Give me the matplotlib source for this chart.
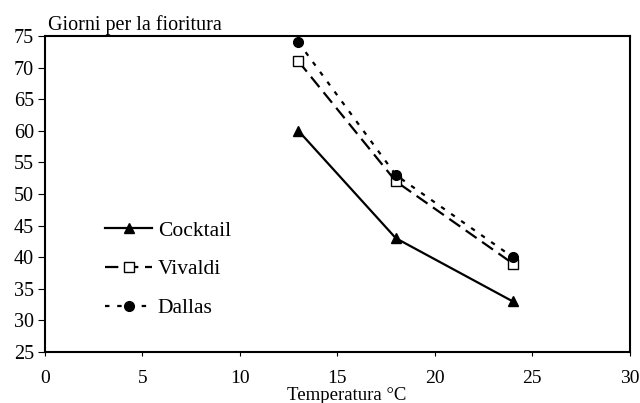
import matplotlib
matplotlib.use("Agg")
import matplotlib.pyplot as plt

temperature = [13, 18, 24]
cocktail = [60, 43, 33]
vivaldi = [71, 52, 39]
dallas = [74, 53, 40]
xticks = [0, 5, 10, 15, 20, 25, 30]
yticks = [25, 30, 35, 40, 45, 50, 55, 60, 65, 70, 75]

plt.rcParams['font.family'] = ['Liberation Serif', 'DejaVu Serif']

fig = plt.figure(figsize=(6.4, 4.03), dpi=100)
ax = fig.add_axes([0.0703, 0.1266, 0.9137, 0.7841])

ax.plot(temperature, cocktail, color='black', lw=1.6, marker='^', ms=7,
        label='Cocktail')
ax.plot(temperature, vivaldi, color='black', lw=1.6, marker='s', ms=7,
        mfc='white', mec='black', mew=1.0, dashes=(6, 3), label='Vivaldi')
ax.plot(temperature, dallas, color='black', lw=1.6, marker='o', ms=7,
        dashes=(2, 3.5), label='Dallas')

ax.set_xlim(0, 30)
ax.set_ylim(25, 75)
ax.set_xticks(xticks)
ax.set_yticks(yticks)
ax.tick_params(axis='x', direction='out', length=3, pad=10, labelsize=14)
ax.tick_params(axis='y', direction='out', length=5, pad=3, labelsize=14.5)
for s in ax.spines.values():
    s.set_linewidth(1.5)

leg = ax.legend(loc='upper left', bbox_to_anchor=(0.1026, 0.415), frameon=False,
                fontsize=15.5, handlelength=2.2, handletextpad=0.25,
                labelspacing=0.86, borderaxespad=0, borderpad=0)

ax.text(0.005, 1.019, 'Giorni per la fioritura', transform=ax.transAxes,
        ha='left', va='baseline', fontsize=14.5)
fig.text(347 / 640, 1 - 396 / 403, 'Temperatura °C', ha='center',
         va='center', fontsize=13.5)

fig.savefig('out.png', dpi=100)
